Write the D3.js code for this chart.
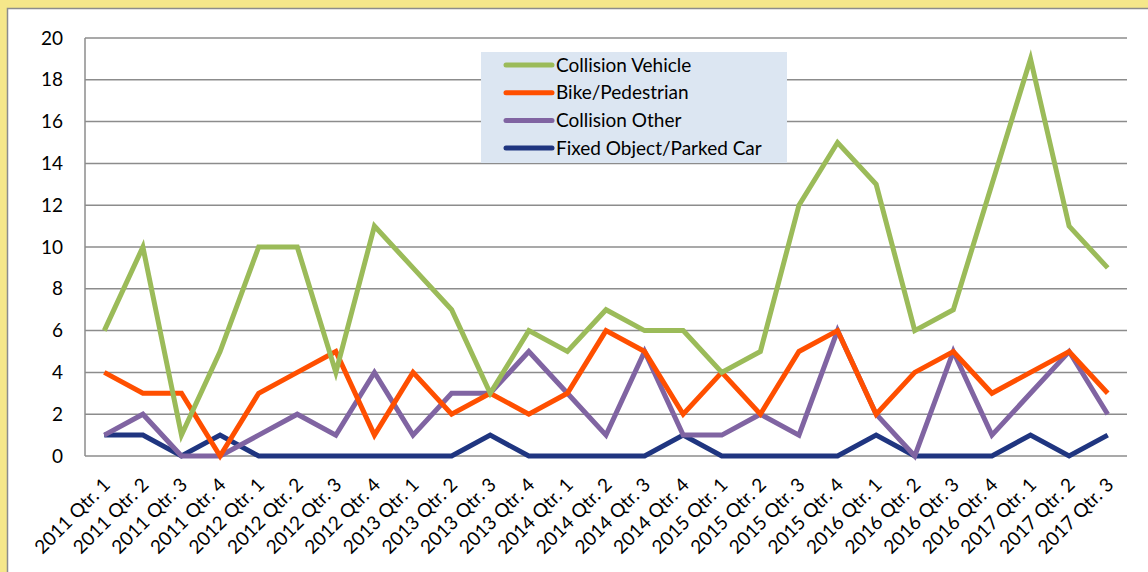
<!DOCTYPE html>
<meta charset="utf-8">
<style>
body { margin: 0; background: #F5E78A; }
svg { display: block; }
.grid line { stroke: #8c8c8c; stroke-width: 1.5px; }
.axis text { font-family: Lato, "Open Sans", sans-serif; fill: #000; }
.series { fill: none; stroke-width: 5px; stroke-linejoin: miter; }
</style>
<body>
<svg id="chart"></svg>
<script src="https://d3js.org/d3.v7.min.js"></script>
<script>

var quarters = ["2011 Qtr. 1","2011 Qtr. 2","2011 Qtr. 3","2011 Qtr. 4",
  "2012 Qtr. 1","2012 Qtr. 2","2012 Qtr. 3","2012 Qtr. 4",
  "2013 Qtr. 1","2013 Qtr. 2","2013 Qtr. 3","2013 Qtr. 4",
  "2014 Qtr. 1","2014 Qtr. 2","2014 Qtr. 3","2014 Qtr. 4",
  "2015 Qtr. 1","2015 Qtr. 2","2015 Qtr. 3","2015 Qtr. 4",
  "2016 Qtr. 1","2016 Qtr. 2","2016 Qtr. 3","2016 Qtr. 4",
  "2017 Qtr. 1","2017 Qtr. 2","2017 Qtr. 3"];

var collisionVehicle = [6,10,1,5,10,10,4,11,9,7,3,6,5,7,6,6,4,5,12,15,13,6,7,13,19,11,9];
var bikePedestrian   = [4,3,3,0,3,4,5,1,4,2,3,2,3,6,5,2,4,2,5,6,2,4,5,3,4,5,3];
var collisionOther   = [1,2,0,0,1,2,1,4,1,3,3,5,3,1,5,1,1,2,1,6,2,0,5,1,3,5,2];
var fixedObject      = [1,1,0,1,0,0,0,0,0,0,1,0,0,0,0,1,0,0,0,0,1,0,0,0,1,0,1];

var yTicks = [0,2,4,6,8,10,12,14,16,18,20];

var seriesNames  = ["Collision Vehicle","Bike/Pedestrian","Collision Other","Fixed Object/Parked Car"];
var seriesValues = [collisionVehicle, bikePedestrian, collisionOther, fixedObject];
var seriesColors = ["#9BBB59","#FF4F00","#8064A2","#1F3580"];

var width = 1148, height = 572;
var plot = {left: 85, right: 1127, top: 38, bottom: 456};

var svg = d3.select("#chart").attr("width", width).attr("height", height);

// white panel
svg.append("rect")
  .attr("x", 7.5).attr("y", 8.5)
  .attr("width", width).attr("height", height)
  .attr("fill", "#fff").attr("stroke", "#8c8c8c").attr("stroke-width", 1.5);

var x = d3.scaleBand().domain(quarters).range([plot.left, plot.right]);
var y = d3.scaleLinear().domain([0, 20]).range([plot.bottom, plot.top]);

// gridlines
svg.append("g").attr("class", "grid")
  .selectAll("line").data(yTicks).enter().append("line")
  .attr("x1", plot.left).attr("x2", plot.right)
  .attr("y1", function(d) { return y(d); })
  .attr("y2", function(d) { return y(d); });

svg.append("line")
  .attr("x1", plot.left).attr("x2", plot.left)
  .attr("y1", plot.top).attr("y2", plot.bottom)
  .attr("stroke", "#8c8c8c").attr("stroke-width", 1.5);

// y labels
svg.append("g").attr("class", "axis")
  .selectAll("text").data(yTicks).enter().append("text")
  .attr("x", 63)
  .attr("y", function(d) { return y(d); })
  .attr("dy", "0.35em")
  .attr("text-anchor", "end")
  .style("font-size", "19px")
  .text(function(d) { return d; });

// x labels
svg.append("g").attr("class", "axis")
  .selectAll("text").data(quarters).enter().append("text")
  .attr("text-anchor", "end")
  .attr("transform", function(d) {
    return "translate(" + (x(d) + x.bandwidth() / 2 + 7) + "," + 486 + ") rotate(-45)";
  })
  .style("font-size", "19px")
  .text(function(d) { return d; });

var line = d3.line()
  .x(function(d, i) { return x(quarters[i]) + x.bandwidth() / 2; })
  .y(function(d) { return y(d); });

// draw series bottom-up so green sits on top
for (var s = seriesValues.length - 1; s >= 0; s--) {
  svg.append("path")
    .attr("class", "series")
    .attr("d", line(seriesValues[s]))
    .attr("stroke", seriesColors[s]);
}

// legend
var legend = svg.append("g").attr("transform", "translate(481,52)");
legend.append("rect")
  .attr("width", 306).attr("height", 111)
  .attr("fill", "#DCE6F2");
var item = legend.selectAll("g.item").data(seriesNames).enter().append("g")
  .attr("class", "item")
  .attr("transform", function(d, i) { return "translate(0," + (13 + i * 27.7) + ")"; });
item.append("line")
  .attr("x1", 25).attr("x2", 71)
  .attr("stroke", function(d, i) { return seriesColors[i]; })
  .attr("stroke-width", 5).attr("stroke-linecap", "round");
item.append("text")
  .attr("x", 75).attr("dy", "0.35em")
  .style("font-family", "Lato, 'Open Sans', sans-serif")
  .style("font-size", "19px")
  .text(function(d) { return d; });

</script>
</body>
